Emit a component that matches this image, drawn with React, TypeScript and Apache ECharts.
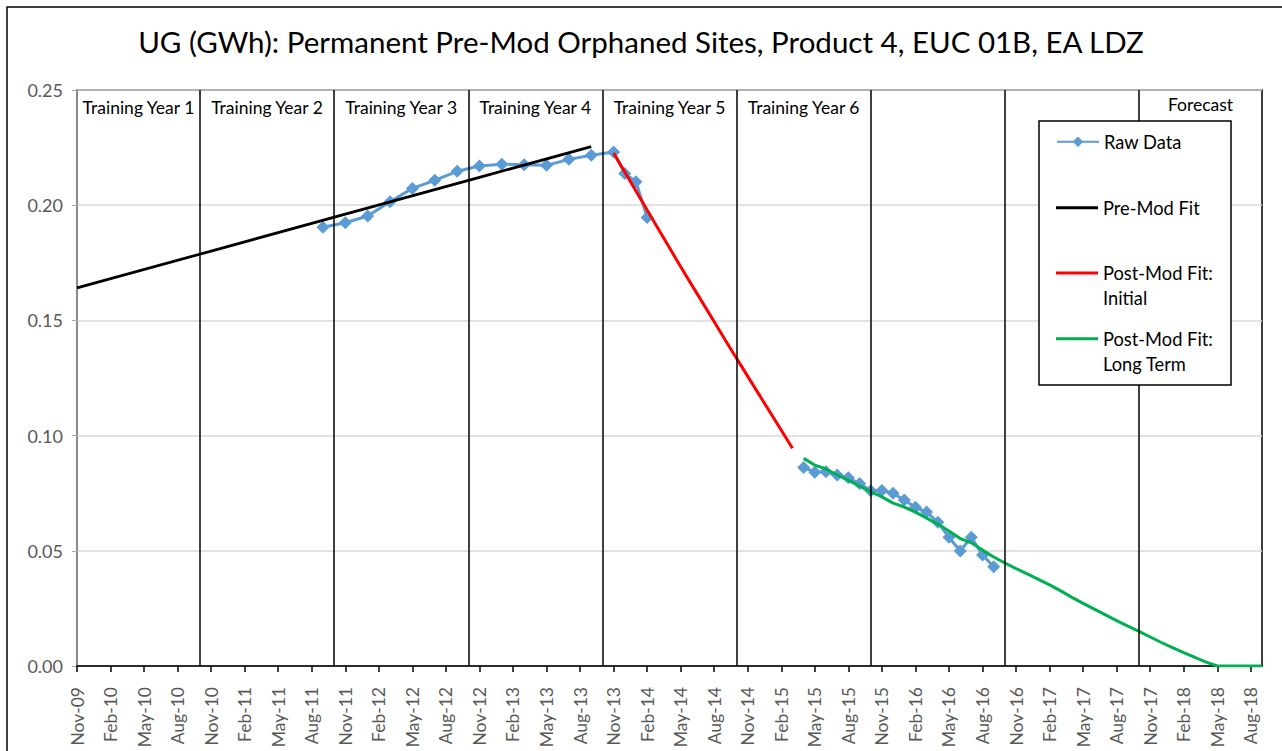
import React, { useEffect, useRef } from "react";
import * as echarts from "echarts";

const FONT = "Lato, 'Noto Sans', sans-serif";

const TITLE = "UG (GWh): Permanent Pre-Mod Orphaned Sites, Product 4, EUC 01B, EA LDZ";

const months = [
  "Nov-09", "Dec-09",
  "Jan-10", "Feb-10", "Mar-10", "Apr-10", "May-10", "Jun-10", "Jul-10", "Aug-10", "Sep-10", "Oct-10", "Nov-10", "Dec-10",
  "Jan-11", "Feb-11", "Mar-11", "Apr-11", "May-11", "Jun-11", "Jul-11", "Aug-11", "Sep-11", "Oct-11", "Nov-11", "Dec-11",
  "Jan-12", "Feb-12", "Mar-12", "Apr-12", "May-12", "Jun-12", "Jul-12", "Aug-12", "Sep-12", "Oct-12", "Nov-12", "Dec-12",
  "Jan-13", "Feb-13", "Mar-13", "Apr-13", "May-13", "Jun-13", "Jul-13", "Aug-13", "Sep-13", "Oct-13", "Nov-13", "Dec-13",
  "Jan-14", "Feb-14", "Mar-14", "Apr-14", "May-14", "Jun-14", "Jul-14", "Aug-14", "Sep-14", "Oct-14", "Nov-14", "Dec-14",
  "Jan-15", "Feb-15", "Mar-15", "Apr-15", "May-15", "Jun-15", "Jul-15", "Aug-15", "Sep-15", "Oct-15", "Nov-15", "Dec-15",
  "Jan-16", "Feb-16", "Mar-16", "Apr-16", "May-16", "Jun-16", "Jul-16", "Aug-16", "Sep-16", "Oct-16", "Nov-16", "Dec-16",
  "Jan-17", "Feb-17", "Mar-17", "Apr-17", "May-17", "Jun-17", "Jul-17", "Aug-17", "Sep-17", "Oct-17", "Nov-17", "Dec-17",
  "Jan-18", "Feb-18", "Mar-18", "Apr-18", "May-18", "Jun-18", "Jul-18", "Aug-18", "Sep-18",
];

// Raw data, first block (bi-monthly then monthly)
const rawMonths1 = ["Sep-11", "Nov-11", "Jan-12", "Mar-12", "May-12", "Jul-12", "Sep-12", "Nov-12", "Jan-13", "Mar-13", "May-13", "Jul-13", "Sep-13", "Nov-13", "Dec-13", "Jan-14", "Feb-14"];
const rawValues1 = [0.1904, 0.1924, 0.1953, 0.2015, 0.2073, 0.2108, 0.2147, 0.217, 0.2178, 0.2176, 0.2173, 0.2199, 0.2217, 0.2231, 0.2138, 0.2102, 0.1947];

// Raw data, second block
const rawMonths2 = ["Apr-15", "May-15", "Jun-15", "Jul-15", "Aug-15", "Sep-15", "Oct-15", "Nov-15", "Dec-15", "Jan-16", "Feb-16", "Mar-16", "Apr-16", "May-16", "Jun-16", "Jul-16", "Aug-16", "Sep-16"];
const rawValues2 = [0.0862, 0.0841, 0.0843, 0.0829, 0.0817, 0.0792, 0.0761, 0.0762, 0.075, 0.072, 0.0689, 0.0668, 0.0624, 0.0559, 0.0499, 0.0559, 0.0482, 0.0431];

// Pre-Mod Fit
const preModMonths = ["Nov-09", "Nov-10", "Nov-11", "Nov-12", "Sep-13"];
const preModValues = [0.1641, 0.1801, 0.1961, 0.2121, 0.2254];

// Post-Mod Fit: Initial
const initMonths = ["Nov-13", "Dec-13", "Jan-14", "Feb-14", "Mar-14", "Apr-14", "May-14", "Jun-14", "Jul-14", "Aug-14", "Sep-14", "Oct-14", "Nov-14", "Dec-14", "Jan-15", "Feb-15", "Mar-15"];
const initValues = [0.2226, 0.2144, 0.2062, 0.1979, 0.1897, 0.1815, 0.1733, 0.1653, 0.1574, 0.1494, 0.1414, 0.1335, 0.1257, 0.1179, 0.1101, 0.1023, 0.0945];

// Post-Mod Fit: Long Term
const longMonths = [
  "Apr-15", "May-15", "Jun-15", "Jul-15", "Aug-15", "Sep-15", "Oct-15", "Nov-15", "Dec-15",
  "Jan-16", "Feb-16", "Mar-16", "Apr-16", "May-16", "Jun-16", "Jul-16", "Aug-16", "Sep-16", "Oct-16", "Nov-16", "Dec-16",
  "Jan-17", "Feb-17", "Mar-17", "Apr-17", "May-17", "Jun-17", "Jul-17", "Aug-17", "Sep-17", "Oct-17", "Nov-17", "Dec-17",
  "Jan-18", "Feb-18", "Mar-18", "Apr-18", "May-18", "Jun-18", "Jul-18", "Aug-18", "Sep-18",
];
const longValues = [
  0.0901, 0.0872, 0.0855, 0.0829, 0.0807, 0.0781, 0.0757, 0.0734, 0.0707,
  0.069, 0.0668, 0.0642, 0.0616, 0.0586, 0.0553, 0.0535, 0.0503, 0.0473, 0.0447, 0.0423, 0.04,
  0.0376, 0.0352, 0.0326, 0.0298, 0.0272, 0.0247, 0.0222, 0.0197, 0.0173, 0.015, 0.0126, 0.0102,
  0.008, 0.0058, 0.0037, 0.0017, 0, 0, 0, 0, 0,
];

// Year boundaries and period labels
const boundaryMonths = ["Oct-10", "Oct-11", "Oct-12", "Oct-13", "Oct-14", "Oct-15", "Oct-16", "Oct-17"];
const periodLabels = ["Training Year 1", "Training Year 2", "Training Year 3", "Training Year 4", "Training Year 5", "Training Year 6", "Forecast"];
const periodStarts = ["Nov-09", "Oct-10", "Oct-11", "Oct-12", "Oct-13", "Oct-14", "Oct-17"];
const periodEnds = ["Oct-10", "Oct-11", "Oct-12", "Oct-13", "Oct-14", "Oct-15", "Sep-18"];

const yTicks = [0, 0.05, 0.1, 0.15, 0.2, 0.25];

const pairs = (ms: string[], vs: number[]) => ms.map((m, i) => [m, vs[i]]);

export default function App() {
  const ref = useRef<HTMLDivElement>(null);
  useEffect(() => {
    if (!ref.current) return;
    const chart = echarts.init(ref.current, undefined, { renderer: "svg" });
    const rawStyle = {
      type: "line",
      name: "Raw Data",
      symbol: "diamond",
      symbolSize: 13,
      showSymbol: true,
      showAllSymbol: true,
      itemStyle: { color: "#5B9BD5" },
      lineStyle: { color: "#5B9BD5", width: 3 },
      z: 2,
    };
    const legendText = { fontFamily: FONT, fontSize: 18.3, color: "#000" };
    const legendBase = {
      orient: "vertical",
      left: 1056,
      padding: 0,
      itemWidth: 42,
      itemGap: 0,
      selectedMode: false,
      z: 60,
    };
    const twoLine = (n: string) => "\n" + n.replace(": ", ":\n");
    const option: any = {
      animation: false,
      backgroundColor: "#fff",
      title: {
        text: TITLE,
        left: "center",
        top: 26.5,
        padding: 0,
        textStyle: { fontFamily: FONT, fontSize: 29.5, fontWeight: "normal", color: "#000" },
      },
      grid: {
        left: 77,
        right: 20,
        top: 90,
        bottom: 85,
        show: true,
        borderColor: "#000",
        borderWidth: 1.5,
        containLabel: false,
      },
      xAxis: {
        type: "category",
        data: months,
        boundaryGap: false,
        axisLine: { lineStyle: { color: "#000", width: 1.5 } },
        axisTick: { show: true, interval: 2, length: 6, lineStyle: { color: "#000", width: 1.5 } },
        axisLabel: {
          interval: 2,
          rotate: 90,
          margin: 21,
          color: "#595959",
          fontFamily: FONT,
          fontSize: 17.5,
        },
        splitLine: { show: false },
      },
      yAxis: {
        type: "value",
        min: yTicks[0],
        max: yTicks[yTicks.length - 1],
        interval: 0.05,
        axisLine: { show: true, lineStyle: { color: "#a6a6a6", width: 1.5 } },
        axisTick: { show: true, length: 5, lineStyle: { color: "#a6a6a6" } },
        axisLabel: {
          margin: 14,
          color: "#595959",
          fontFamily: FONT,
          fontSize: 18,
          formatter: (v: number) => v.toFixed(2),
        },
        splitLine: { show: true, lineStyle: { color: "#d9d9d9", width: 1.5 } },
      },
      legend: [
        {
          ...legendBase,
          top: 131.7,
          itemHeight: 13,
          data: ["Raw Data"],
          textStyle: { ...legendText, lineHeight: 20 },
        },
        {
          ...legendBase,
          top: 197.7,
          itemHeight: 3,
          data: [{ name: "Pre-Mod Fit", icon: "rect" }],
          textStyle: { ...legendText, lineHeight: 20 },
        },
        {
          ...legendBase,
          top: 235.5,
          itemHeight: 3,
          data: [{ name: "Post-Mod Fit: Initial", icon: "rect" }],
          formatter: twoLine,
          textStyle: { ...legendText, lineHeight: 25 },
        },
        {
          ...legendBase,
          top: 300.5,
          itemHeight: 3,
          data: [{ name: "Post-Mod Fit: Long Term", icon: "rect" }],
          formatter: twoLine,
          textStyle: { ...legendText, lineHeight: 25.5 },
        },
      ],
      graphic: [
        {
          type: "rect",
          z: 0,
          silent: true,
          shape: { x: 7, y: 7, width: 1290, height: 780 },
          style: { fill: "none", stroke: "#000", lineWidth: 1.5 },
        },
        {
          type: "rect",
          z: 50,
          silent: true,
          shape: { x: 1039, y: 121, width: 192, height: 264 },
          style: { fill: "#fff", stroke: "#000", lineWidth: 1.5 },
        },
      ],
      series: [
        { ...rawStyle, data: pairs(rawMonths1, rawValues1) },
        { ...rawStyle, data: pairs(rawMonths2, rawValues2) },
        {
          type: "line",
          name: "Pre-Mod Fit",
          data: pairs(preModMonths, preModValues),
          showSymbol: false,
          symbol: "none",
          itemStyle: { color: "#000" },
          lineStyle: { color: "#000", width: 2.75 },
          z: 3,
          markLine: {
            silent: true,
            symbol: ["none", "none"],
            label: { show: false },
            lineStyle: { color: "#000", width: 1.5, type: "solid" },
            data: boundaryMonths.map((m) => ({ xAxis: m })),
          },
          markArea: {
            silent: true,
            itemStyle: { color: "rgba(0,0,0,0)" },
            label: {
              show: true,
              position: "insideTop",
              distance: 8.5,
              color: "#000",
              fontFamily: FONT,
              fontSize: 17.5,
            },
            data: periodLabels.map((lab, i) => [
              { name: lab, xAxis: periodStarts[i], label: lab === "Forecast" ? { distance: 5 } : undefined },
              { xAxis: periodEnds[i] },
            ]),
          },
        },
        {
          type: "line",
          name: "Post-Mod Fit: Initial",
          data: pairs(initMonths, initValues),
          showSymbol: false,
          symbol: "none",
          itemStyle: { color: "#FF0000" },
          lineStyle: { color: "#FF0000", width: 3 },
          z: 3,
        },
        {
          type: "line",
          name: "Post-Mod Fit: Long Term",
          data: pairs(longMonths, longValues),
          showSymbol: false,
          symbol: "none",
          itemStyle: { color: "#00B050" },
          lineStyle: { color: "#00B050", width: 3 },
          z: 3,
        },
      ],
    };
    chart.setOption(option);
    return () => chart.dispose();
  }, []);
  return (
    <div
      ref={ref}
      style={{ position: "fixed", left: 0, top: 0, width: 1282, height: 751, background: "#fff" }}
    />
  );
}
